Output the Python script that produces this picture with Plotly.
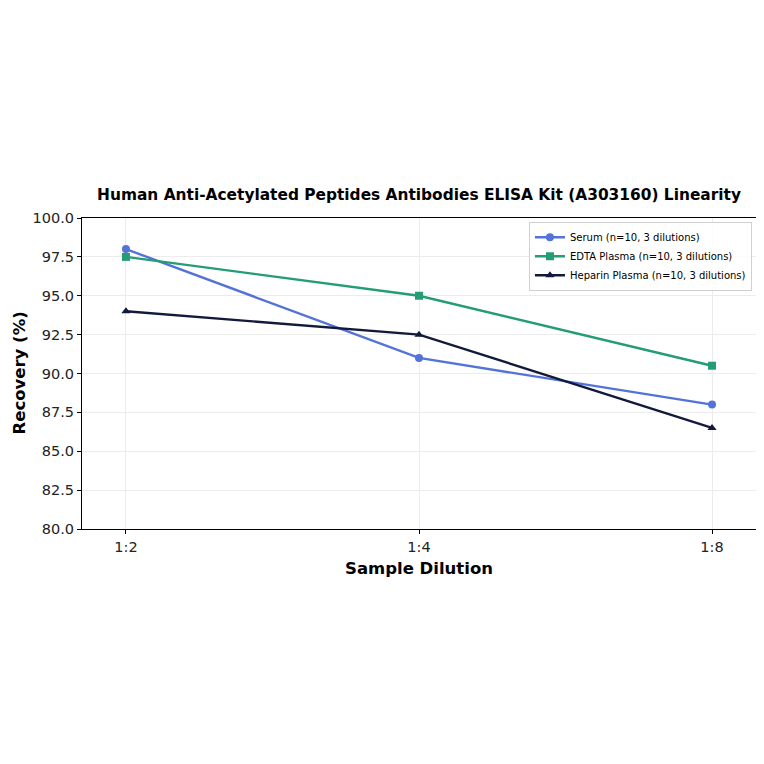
import plotly.graph_objects as go

dilutions = ["1:2", "1:4", "1:8"]
serum = [98.0, 91.0, 88.0]
edta = [97.5, 95.0, 90.5]
heparin = [94.0, 92.5, 86.5]

names = ["Serum (n=10, 3 dilutions)", "EDTA Plasma (n=10, 3 dilutions)", "Heparin Plasma (n=10, 3 dilutions)"]
colors = ["#5373d8", "#249c74", "#121a3b"]
symbols = ["circle", "square", "triangle-up"]

fig = go.Figure()
for vals, name, col, sym in zip([serum, edta, heparin], names, colors, symbols):
    fig.add_trace(go.Scatter(
        x=list(range(len(dilutions))), y=vals, name=name, mode="lines+markers",
        line=dict(color=col, width=2.4),
        marker=dict(symbol=sym, size=8, color=col),
    ))

axis_common = dict(
    showline=True, linecolor="black", linewidth=1.2, mirror=True,
    ticks="outside", tickcolor="black", ticklen=4,
    showgrid=True, gridcolor="#ececec", gridwidth=0.8,
    zeroline=False, tickfont=dict(size=14.5, color="#222"),
    automargin=False,
)

fig.update_xaxes(
    **axis_common, range=[-0.15, 2.15],
    tickmode="array", tickvals=list(range(len(dilutions))), ticktext=dilutions,
)
fig.update_yaxes(
    **axis_common, range=[80, 100], dtick=2.5, tickformat=".1f",
)

# axis titles as annotations so they sit where the reference has them
fig.add_annotation(text="<b>Sample Dilution</b>", xref="paper", yref="paper",
                   x=0.5, y=0, yanchor="middle", yshift=-39, showarrow=False,
                   font=dict(size=16.5, color="black"))
fig.add_annotation(text="<b>Recovery (%)</b>", xref="paper", yref="paper",
                   x=0, y=0.5, xanchor="center", xshift=-63, textangle=-90, showarrow=False,
                   font=dict(size=16.5, color="black"))

fig.update_layout(
    width=764, height=764,
    margin=dict(l=74, r=16, t=210, b=243),
    font=dict(family="DejaVu Sans", color="black"),
    plot_bgcolor="white", paper_bgcolor="white",
    title=dict(text="<b>Human Anti-Acetylated Peptides Antibodies ELISA Kit (A303160) Linearity</b>",
               font=dict(size=15.4), x=0.538, xanchor="center", y=0.756, yanchor="middle"),
    legend=dict(x=0.994, y=0.988, xanchor="right", yanchor="top",
                bgcolor="rgba(255,255,255,0.85)", bordercolor="#d0d0d0", borderwidth=1,
                font=dict(size=10), tracegroupgap=0, itemwidth=30),
    showlegend=True,
)

fig.write_html("out.html")
